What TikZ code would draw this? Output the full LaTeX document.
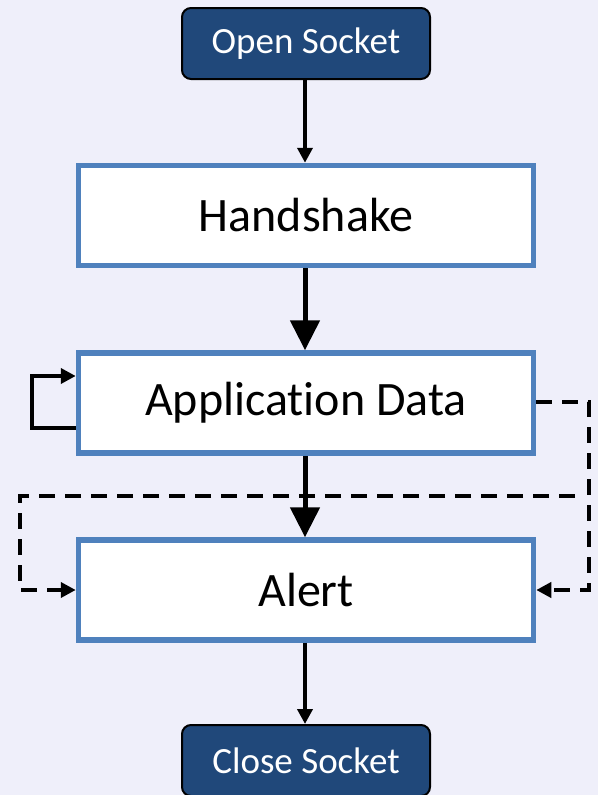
\documentclass[tikz,border=0pt]{standalone}
\usepackage{fontspec}
\setmainfont{Carlito}[Ligatures=NoCommon]
\usetikzlibrary{arrows.meta}
\definecolor{bgcol}{RGB}{239,239,250}
\definecolor{termfill}{RGB}{32,72,122}
\definecolor{stateedge}{RGB}{79,129,189}
\tikzset{
  termbox/.style={draw=black, line width=2pt, fill=termfill, rounded corners=9pt,
    minimum width=248pt, minimum height=71pt, text=white, font=\fontsize{37}{42}\selectfont, inner sep=0pt},
  statebox/.style={draw=stateedge, line width=5.5pt, fill=white,
    minimum width=455pt, minimum height=100pt, font=\fontsize{48}{54}\selectfont, inner sep=0pt},
  flow/.style={line width=4.5pt, -{Triangle[length=15pt,width=15pt]}},
  bigflow/.style={line width=5pt, -{Triangle[length=30pt,width=29pt]}},
  loopflow/.style={line width=4.5pt, -{Triangle[length=15pt,width=15pt]}},
  alertflow/.style={line width=4.5pt, dash pattern=on 16pt off 10pt, -{Triangle[length=15pt,width=15pt]}}
}
\begin{document}
\begin{tikzpicture}[x=1pt,y=-1pt]
  \fill[bgcol] (0,0) rectangle (598,795);
  \useasboundingbox (0,0) rectangle (598,795);
  \clip (0,0) rectangle (598,795);

  \node[termbox] (open) at (306,43.5) {Open Socket};
  \node[statebox] (hand) at (306,215.5) {Handshake};
  \node[statebox] (app) at (306,403) {Application Data};
  \node[statebox] (alert) at (306,590) {Alert};
  \node[termbox] (close) at (306,760.5) {Close Socket};

  % main sequence
  \draw[flow] (open.south -| 305,0) -- (hand.north -| 305,0);
  \draw[bigflow] (hand.south -| 305,0) -- (app.north -| 305,0);
  \draw[bigflow] (app.south -| 305,0) -- (alert.north -| 305,0);
  \draw[flow] (alert.south -| 305,0) -- (close.north -| 305,0);

  % application data repeats
  \draw[loopflow] (app.west |- 0,428) -- (32,428) -- (32,376) -- (app.west |- 0,376);

  % alerts raised from either side
  \draw[alertflow] (app.east |- 0,402) -- (589,402) -- (589,590) -- (alert.east);
  \coordinate (branch) at (575,496);
  \draw[alertflow] (branch) -- (20,496) -- (20,590) -- (alert.west);
\end{tikzpicture}
\end{document}
